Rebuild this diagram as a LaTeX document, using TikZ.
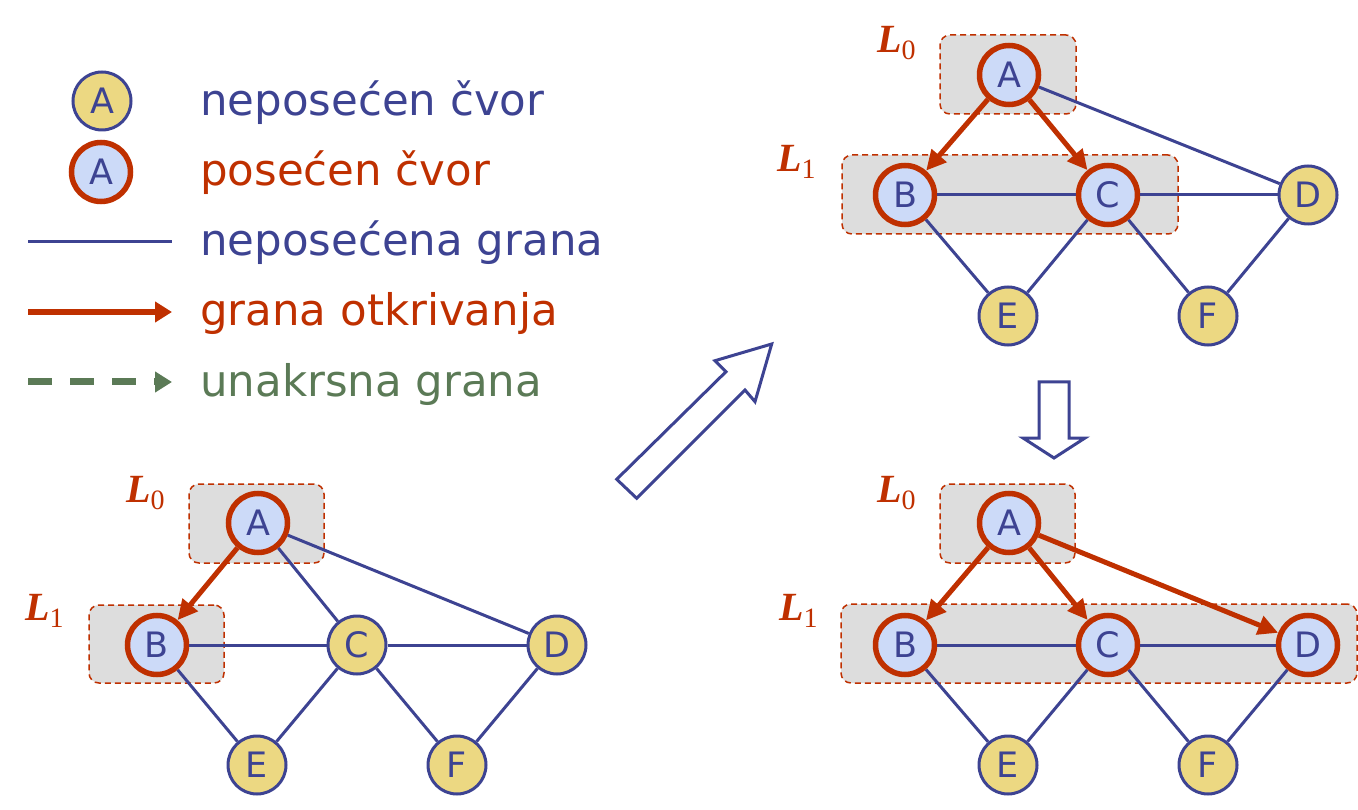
\documentclass[tikz,border=0pt]{standalone}
\usepackage{fontspec}
\setmainfont{DejaVu Sans}
\newfontfamily\lserif{Liberation Serif}
\usetikzlibrary{arrows.meta}
\definecolor{nblue}{HTML}{3D4392}
\definecolor{nred}{HTML}{BF3000}
\definecolor{nyel}{HTML}{ECD882}
\definecolor{nlb}{HTML}{CCDAF8}
\definecolor{ngray}{HTML}{DDDDDD}
\definecolor{ngreen}{HTML}{5B7A56}
\newcommand{\subd}[1]{\raisebox{-7pt}{\normalfont\lserif\fontsize{28}{28}\selectfont #1}}
\begin{document}
\begin{tikzpicture}[x=1pt,y=-1pt,
 unv/.style={circle, draw=nblue, fill=nyel, line width=3pt, minimum size=58pt, inner sep=0pt, text=nblue, font=\fontsize{35}{35}\selectfont},
 vis/.style={circle, draw=nred, fill=nlb, line width=5.5pt, minimum size=59pt, inner sep=0pt, text=nblue, font=\fontsize{35}{35}\selectfont},
 edge/.style={draw=nblue, line width=3pt},
 disc/.style={draw=nred, line width=5pt, -{Triangle[length=20pt,width=19pt]}},
 legdisc/.style={draw=nred, line width=5.5pt, -{Triangle[length=17pt,width=20pt]}},
 legcross/.style={draw=ngreen, line width=7pt, dash pattern=on 24pt off 18pt, -{Triangle[length=17pt,width=20pt]}},
 lvl/.style={rectangle, rounded corners=10pt, fill=ngray, draw=nred, line width=1.5pt, dash pattern=on 6pt off 4pt, inner sep=0pt},
 lab/.style={anchor=base west, text=nred, inner sep=0pt, font=\lserif\fontsize{40}{40}\selectfont\bfseries\itshape},
 leg/.style={anchor=base west, inner sep=0pt, font=\fontsize{43.5}{43.5}\selectfont},
 hollow/.style={draw=nblue, fill=white, line width=3pt, line join=miter}
]
\useasboundingbox (0,0) rectangle (1358,810);

% ---------- legend ----------
\node[unv] (lgU) at (102,101) {A};
\node[vis] (lgV) at (101,172) {A};
\coordinate (lg1a) at (28,242); \coordinate (lg1b) at (172,242);
\coordinate (lg2a) at (28,312); \coordinate (lg2b) at (172,312);
\coordinate (lg3a) at (28,382); \coordinate (lg3b) at (172,382);
\draw[edge] (lg1a) -- (lg1b);
\draw[legdisc] (lg2a) -- (lg2b);
\draw[legcross] (lg3a) -- (lg3b);
\node[leg, text=nblue] (t1) at (200,116) {neposećen čvor};
\node[leg, text=nred] (t2) at (200,186) {posećen čvor};
\node[leg, text=nblue] (t3) at (200,256) {neposećena grana};
\node[leg, text=nred] (t4) at (200,326) {grana otkrivanja};
\node[leg, text=ngreen] (t5) at (200,396) {unakrsna grana};

% ---------- hollow arrows ----------
\draw[hollow] (616.7,479.3) -- (726,371.7) -- (715,360.7) -- (771.7,344) -- (755,401.7) -- (745,390) -- (636.7,498.3) -- cycle;
\draw[hollow] (1039,382) -- (1069,382) -- (1069,438) -- (1085,438) -- (1054,458) -- (1023,438) -- (1039,438) -- cycle;

% ---------- bottom-left graph ----------
\node[lvl, minimum width=135pt, minimum height=79pt] (blL0box) at (256.5,523.5) {};
\node[lvl, minimum width=135pt, minimum height=78pt] (blL1box) at (156.5,644) {};
\node[lab] (blL0) at (126,502) {L\subd{0}};
\node[lab] (blL1) at (25,620) {L\subd{1}};
\node[vis] (blA) at (258,523) {A};
\node[vis] (blB) at (157,645) {B};
\node[unv] (blC) at (357,645) {C};
\node[unv] (blD) at (557,645) {D};
\node[unv] (blE) at (257,765) {E};
\node[unv] (blF) at (457,765) {F};
\draw[disc] (blA) -- (blB);
\draw[edge] (blA) -- (blC);
\draw[edge] (blA) -- (blD);
\draw[edge] (blB) -- (blC);
\draw[edge] (blC) -- (blD);
\draw[edge] (blB) -- (blE);
\draw[edge] (blC) -- (blE);
\draw[edge] (blC) -- (blF);
\draw[edge] (blD) -- (blF);

% ---------- top-right graph ----------
\node[lvl, minimum width=136pt, minimum height=79pt] (trL0box) at (1008,74.5) {};
\node[lvl, minimum width=336pt, minimum height=79pt] (trL1box) at (1010,194.5) {};
\node[lab] (trL0) at (877,53) {L\subd{0}};
\node[lab] (trL1) at (777,172) {L\subd{1}};
\node[vis] (trA) at (1009,75) {A};
\node[vis] (trB) at (905,195) {B};
\node[vis] (trC) at (1108,195) {C};
\node[unv] (trD) at (1308,195) {D};
\node[unv] (trE) at (1008,316) {E};
\node[unv] (trF) at (1208,316) {F};
\draw[disc] (trA) -- (trB);
\draw[disc] (trA) -- (trC);
\draw[edge] (trA) -- (trD);
\draw[edge] (trB) -- (trC);
\draw[edge] (trC) -- (trD);
\draw[edge] (trB) -- (trE);
\draw[edge] (trC) -- (trE);
\draw[edge] (trC) -- (trF);
\draw[edge] (trD) -- (trF);

% ---------- bottom-right graph ----------
\node[lvl, minimum width=135pt, minimum height=79pt] (brL0box) at (1007.5,523.5) {};
\node[lvl, minimum width=516pt, minimum height=79pt] (brL1box) at (1099,643.5) {};
\node[lab] (brL0) at (877,502) {L\subd{0}};
\node[lab] (brL1) at (779,620) {L\subd{1}};
\node[vis] (brA) at (1009,523) {A};
\node[vis] (brB) at (905,645) {B};
\node[vis] (brC) at (1108,645) {C};
\node[vis] (brD) at (1308,645) {D};
\node[unv] (brE) at (1008,765) {E};
\node[unv] (brF) at (1208,765) {F};
\draw[disc] (brA) -- (brB);
\draw[disc] (brA) -- (brC);
\draw[disc] (brA) -- (brD);
\draw[edge] (brB) -- (brC);
\draw[edge] (brC) -- (brD);
\draw[edge] (brB) -- (brE);
\draw[edge] (brC) -- (brE);
\draw[edge] (brC) -- (brF);
\draw[edge] (brD) -- (brF);
\end{tikzpicture}
\end{document}
